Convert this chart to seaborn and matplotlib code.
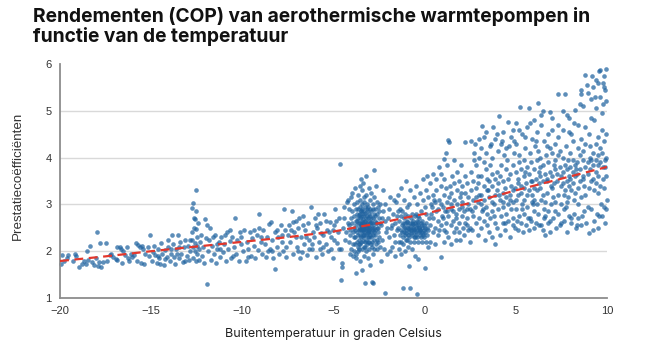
import matplotlib
matplotlib.use("Agg")
import matplotlib.pyplot as plt
import seaborn as sns
import pandas as pd

# Measurements: (outdoor temperature in °C, coefficient of performance)
seg_a = [(-19.95,1.72),(-19.87,1.92),(-19.80,1.78),(-19.6,1.86),(-19.54,1.92),(-19.3,1.80),(-19.18,1.95),
         (-18.95,1.66),(-18.8,1.73),(-18.66,1.79),(-18.59,1.72),(-18.54,2.0),(-18.45,1.81),(-18.35,2.12),
         (-18.23,1.76),(-18.12,1.71),(-17.99,2.40),(-17.93,1.69),(-17.85,1.77),(-17.80,2.17),(-17.77,1.67),
         (-17.62,1.76),(-17.49,2.17),(-17.44,1.79),(-17.26,1.92),(-17.1,1.87),(-16.95,1.84),(-16.89,1.82),
         (-16.71,2.10),(-16.65,2.05),(-16.52,2.0),(-16.45,1.92),(-16.34,2.10),(-16.25,1.86),(-16.10,1.95),
         (-16.03,1.88),(-15.92,1.92),(-15.83,2.17),(-15.76,1.80),(-15.70,2.13),(-15.61,2.10),(-15.55,1.74),
         (-15.48,2.12),(-15.43,2.05),(-15.37,1.72),(-15.34,1.95),(-15.19,2.08),(-15.10,1.90),(-15.06,2.35),
         (-16.6,1.75),(-17.2,1.95),(-18.0,1.85),(-19.1,1.90),(-16.9,2.08),(-16.2,1.78)]

seg_b = [(-14.97,1.79),(-14.88,1.99),(-14.79,1.92),(-14.70,1.74),(-14.62,2.05),(-14.55,1.85),(-14.45,2.18),
         (-14.38,1.95),(-14.30,1.70),(-14.22,2.02),(-14.15,1.88),(-14.05,2.10),(-13.98,1.78),(-13.90,1.95),
         (-13.85,2.34),(-13.78,2.15),(-13.70,1.72),(-13.62,2.05),(-13.55,2.34),(-13.48,1.85),(-13.40,2.20),
         (-13.35,1.95),(-13.28,1.76),(-13.20,2.08),(-13.12,2.25),(-13.05,1.90),(-12.98,2.12),(-12.92,1.82),
         (-12.85,2.00),(-14.5,1.72),(-14.1,2.25),(-13.75,1.88),(-13.15,1.80),(-14.85,2.12),(-13.6,1.95),
         (-14.25,1.83),(-13.9,2.05),(-12.88,2.25),(-13.45,2.1),(-14.65,1.9)]

seg_c = [(-12.78,2.40),(-12.76,2.92),(-12.74,2.25),(-12.72,3.02),(-12.70,2.10),(-12.68,1.85),(-12.65,2.72),
         (-12.64,2.50),(-12.62,2.00),(-12.61,2.69),(-12.58,2.18),(-12.56,1.78),(-12.54,3.31),(-12.54,2.86),
         (-12.52,2.48),(-12.50,2.30),(-12.48,1.95),(-12.46,2.12),(-12.44,2.60),(-12.40,2.05),(-12.36,1.82),
         (-12.30,2.20),(-12.25,2.35),(-12.20,1.90),(-12.15,2.10),(-12.10,1.75),(-12.05,2.69),(-12.02,2.28),
         (-11.95,2.56),(-11.92,1.29)]

seg_d = [(-11.90,2.00),(-11.85,2.25),(-11.77,2.50),(-11.72,1.82),(-11.65,2.12),(-11.58,1.95),(-11.50,2.35),
         (-11.45,1.75),(-11.38,2.05),(-11.30,2.20),(-11.22,1.88),(-11.15,2.30),(-11.08,1.98),(-11.00,2.15),
         (-10.92,1.80),(-10.85,2.40),(-10.78,2.05),(-10.70,2.22),(-10.62,1.85),(-10.55,2.30),(-10.48,2.10),
         (-10.40,2.70),(-10.35,1.95),(-10.28,2.25),(-10.20,1.80),(-10.12,2.42),(-10.05,2.15),(-9.98,2.00),
         (-9.90,2.45),(-9.82,1.78),(-9.75,2.20),(-9.68,2.05),(-9.60,2.40),(-9.52,1.90),(-9.45,2.28),
         (-9.38,2.12),(-9.30,1.85),(-9.22,2.35),(-9.15,2.02),(-9.06,2.79),(-9.00,2.20),(-8.92,1.95),
         (-8.85,2.45),(-8.78,2.15),(-8.70,1.88),(-8.62,2.30),(-8.55,2.58),(-8.48,2.05),(-8.44,2.62),
         (-8.38,2.25),(-8.30,1.85),(-8.22,2.40),(-8.20,1.62),(-8.12,2.10),(-8.05,2.30),(-7.98,1.95),
         (-7.90,2.55),(-7.82,2.20),(-7.75,2.00),(-7.71,2.90),(-7.65,2.45),(-7.58,1.88),(-7.52,2.35),
         (-11.6,2.3),(-11.2,2.05),(-10.95,2.35),(-10.5,1.9),(-10.1,2.3),(-9.7,1.88),(-9.35,2.45),
         (-8.95,2.3),(-8.6,2.0),(-8.1,2.45),(-7.85,2.35),(-9.1,2.5),(-10.7,2.45),(-11.4,2.15),
         (-8.4,2.0),(-7.6,2.1)]

seg_e = [(-7.45,2.55),(-7.38,2.20),(-7.30,2.85),(-7.22,1.95),(-7.15,2.40),(-7.08,2.65),(-7.00,2.10),
         (-6.92,2.50),(-6.85,1.85),(-6.78,2.30),(-6.70,2.75),(-6.62,2.15),(-6.55,2.45),(-6.48,1.92),
         (-6.40,2.60),(-6.32,2.25),(-6.25,2.95),(-6.18,2.05),(-6.10,2.40),(-6.02,2.70),(-5.95,1.88),
         (-5.88,2.50),(-5.80,2.20),(-5.72,2.60),(-5.65,1.95),(-5.58,2.35),(-5.50,2.80),(-5.42,2.15),
         (-5.35,2.45),(-5.28,2.00),(-5.20,2.62),(-5.12,2.30),(-5.05,1.85),(-4.98,2.55),(-4.90,2.90),
         (-4.82,2.18),(-4.75,2.42),(-4.68,2.72),(-4.64,3.86),(-4.60,2.05),(-4.55,1.74),(-4.51,1.67),
         (-4.59,1.39),(-4.48,2.50),(-4.42,2.95),(-4.35,2.25),(-4.28,3.05),(-4.22,2.60),
         (-7.35,2.45),(-7.05,2.30),(-6.95,2.00),(-6.65,2.55),(-6.35,2.05),(-6.05,2.30),(-5.85,2.80),
         (-5.55,2.10),(-5.25,2.40),(-4.95,2.25),(-4.70,2.05),(-4.45,2.70),(-6.88,2.72),(-6.5,2.3),
         (-5.98,2.55),(-5.68,2.38),(-5.4,2.65),(-5.15,2.05),(-4.85,2.65),(-7.2,2.62),(-6.2,2.15),
         (-5.75,2.05),(-4.3,2.4),(-6.75,1.98),(-5.05,2.45)]

seg_f = [(-4.17,2.20),(-4.13,2.55),(-4.15,2.90),(-4.11,1.95),(-4.18,3.10),
         (-4.07,2.35),(-4.03,2.70),(-4.05,2.05),(-4.02,3.15),(-4.08,2.45),
         (-3.97,2.60),(-3.93,2.15),(-3.96,2.85),(-3.92,1.90),(-3.98,3.25),(-3.94,2.40),
         (-3.89,2.30),(-3.86,2.75),(-3.88,2.00),(-3.85,3.00),(-3.90,2.50),
         (-3.82,2.45),(-3.78,2.90),(-3.81,2.15),(-3.79,1.85),(-3.83,3.35),(-3.77,2.65),(-3.80,2.30),(-3.76,1.53),
         (-3.74,2.55),(-3.70,2.20),(-3.73,3.05),(-3.71,2.80),(-3.69,2.40),(-3.75,1.95),(-3.72,2.65),
         (-3.66,2.35),(-3.63,2.70),(-3.67,2.10),(-3.64,3.20),(-3.62,2.50),(-3.68,2.90),(-3.65,2.00),(-3.61,2.60),
         (-3.54,1.78),(-3.59,2.45),(-3.56,2.80),(-3.60,2.25),(-3.57,3.40),(-3.55,2.60),(-3.58,2.05),(-3.53,2.95),
         (-3.57,2.35),(-3.56,2.70),(-3.51,2.55),(-3.49,2.30),(-3.53,3.10),(-3.50,2.75),(-3.52,2.15),(-3.48,2.45),
         (-3.51,3.55),(-3.50,2.85),(-3.45,1.60),(-3.46,2.40),(-3.43,2.65),(-3.47,2.20),(-3.44,3.00),(-3.42,2.50),
         (-3.45,2.90),(-3.41,2.05),(-3.46,3.30),(-3.44,2.60),(-3.40,2.35),(-3.39,2.50),(-3.36,2.75),(-3.38,2.30),
         (-3.35,3.15),(-3.37,2.60),(-3.34,2.10),(-3.39,2.85),(-3.36,2.45),(-3.37,3.45),(-3.35,1.90),
         (-3.31,2.35),(-3.28,2.55),(-3.32,2.80),(-3.29,2.20),(-3.30,3.05),(-3.27,2.65),(-3.31,2.40),(-3.28,2.95),
         (-3.27,1.31),(-3.29,2.10),(-3.23,2.45),(-3.20,2.70),(-3.24,2.25),(-3.21,3.20),(-3.22,2.55),(-3.19,2.85),
         (-3.23,2.00),(-3.21,2.35),(-3.20,3.60),(-3.16,2.60),(-3.13,2.30),(-3.15,2.90),(-3.12,2.45),(-3.17,3.00),
         (-3.14,2.15),(-3.16,2.75),(-3.13,1.85),(-3.15,2.50),(-3.09,2.40),(-3.06,2.65),(-3.08,2.20),(-3.05,3.35),
         (-3.10,2.55),(-3.07,2.80),(-3.04,2.05),(-3.09,2.95),(-3.06,2.30),(-3.01,2.50),(-2.98,2.75),(-3.02,2.35),
         (-2.99,3.10),(-3.00,2.60),(-2.97,2.15),(-3.01,2.90),(-2.98,1.70),(-3.03,2.45),(-2.93,2.30),(-2.90,2.60),
         (-2.94,2.85),(-2.91,2.20),(-2.92,3.25),(-2.89,2.50),(-2.90,1.35),(-2.93,2.70),(-2.86,2.45),(-2.83,2.70),
         (-2.87,2.10),(-2.84,3.00),(-2.85,2.55),(-2.82,2.35),(-2.86,2.90),(-2.84,1.31),(-2.83,1.95),
         (-2.79,2.50),(-2.76,2.25),(-2.80,2.80),(-2.76,3.73),(-2.78,2.40),(-2.75,2.65),(-2.79,3.15),(-2.77,2.05),
         (-2.71,2.35),(-2.68,2.60),(-2.72,2.90),(-2.69,2.15),(-2.70,2.45),(-2.67,3.40),(-2.71,2.75),
         (-2.63,2.50),(-2.60,2.25),(-2.64,2.80),(-2.61,2.05),(-2.62,2.60),(-2.59,3.05),
         (-2.56,2.40),(-2.53,2.70),(-2.57,2.20),(-2.54,2.95),(-2.55,2.50),
         (-2.49,2.30),(-2.46,2.60),(-2.50,2.85),(-2.47,2.10),
         (-3.33,2.48),(-3.26,2.62),(-3.18,2.38),(-3.11,2.72),(-3.04,2.52),(-2.96,2.42),(-3.40,2.68),
         (-3.47,2.55),(-3.55,2.48),(-3.62,2.78),(-3.25,2.82),(-3.12,2.20),(-2.95,2.62),(-3.36,2.22),
         (-3.48,2.85),(-3.58,2.15),(-3.20,2.50),(-3.05,2.42)]

seg_g = [(-2.4,2.55),(-2.35,2.25),(-2.3,2.85),(-2.25,2.05),(-2.2,2.65),(-2.15,3.0),(-2.1,2.4),(-2.05,1.95),
         (-2.0,2.7),(-1.95,2.3),(-1.9,3.15),(-1.85,2.5),(-1.8,2.1),(-1.75,2.8),(-1.7,2.35),(-1.65,2.6),
         (-1.6,1.9),(-1.55,3.05),(-1.5,2.45),(-2.38,1.8),(-2.20,1.10),(-2.28,3.3),(-1.98,2.9),(-1.78,2.55),
         (-1.62,2.2),(-2.32,2.7),(-2.08,2.5),(-1.88,2.0),(-1.68,3.1),(-2.45,3.0),(-1.52,2.75)]

seg_h = [(-1.46,2.50),(-1.43,2.20),(-1.47,2.85),(-1.44,3.20),(-1.39,2.65),(-1.36,2.35),(-1.40,2.05),(-1.37,2.90),
         (-1.31,2.45),(-1.28,2.75),(-1.32,2.20),(-1.29,3.35),(-1.30,1.95),(-1.23,2.55),(-1.20,2.30),(-1.24,2.85),
         (-1.21,2.60),(-1.16,2.40),(-1.13,2.70),(-1.17,2.15),(-1.14,3.10),(-1.18,1.21),(-1.09,2.50),(-1.06,2.35),
         (-1.10,2.80),(-1.07,2.60),(-1.08,2.00),(-1.01,2.45),(-0.98,2.65),(-1.02,2.25),(-0.99,2.95),(-1.00,3.50),
         (-0.93,2.55),(-0.90,2.35),(-0.94,2.75),(-0.91,2.10),(-0.92,2.50),(-0.86,2.40),(-0.83,2.60),(-0.87,2.30),
         (-0.84,3.00),(-0.85,1.68),(-0.79,2.50),(-0.76,2.70),(-0.80,2.20),(-0.77,2.45),(-0.80,1.21),(-0.78,3.30),
         (-0.71,2.35),(-0.68,2.55),(-0.72,2.80),(-0.69,2.05),(-0.70,2.60),(-0.63,2.45),(-0.60,2.30),(-0.64,2.65),
         (-0.61,3.15),(-0.62,2.50),(-0.56,2.40),(-0.53,2.60),(-0.57,2.20),(-0.54,2.75),(-0.55,1.90),(-0.49,2.50),
         (-0.46,2.35),(-0.50,2.80),(-0.47,2.55),(-0.48,3.40),(-0.43,2.45),(-0.40,2.30),(-0.44,2.65),(-0.42,1.08),
         (-0.41,3.00),(-0.36,2.55),(-0.33,2.40),(-0.37,2.20),(-0.37,1.83),(-0.34,2.75),(-0.29,2.50),(-0.26,2.35),
         (-0.30,2.70),(-0.27,3.25),(-0.28,2.45),(-0.21,2.40),(-0.18,2.60),(-0.22,2.30),(-0.19,2.85),(-0.13,2.50),
         (-0.10,2.35),(-0.14,2.65),(-0.11,3.55),(-0.12,2.20),(-0.06,2.45),(-0.03,2.55),(-0.07,3.10),(0.00,1.64),
         (-0.04,2.30),(0.04,2.40),(0.07,2.60),(0.03,2.95),(0.06,2.20),(0.05,3.30),(0.11,2.50),(0.14,2.35),
         (0.10,2.80),(0.13,3.60),(0.19,2.45),(0.22,2.70),(0.18,3.15),(0.21,2.10),
         (-1.25,2.42),(-1.12,2.52),(-1.03,2.38),(-0.95,2.62),(-0.88,2.48),(-0.74,2.38),(-0.66,2.58),
         (-0.58,2.48),(-0.45,2.42),(-0.38,2.62),(-0.31,2.52),(-0.24,2.45),(-0.16,2.55),(-0.08,2.38),
         (0.01,2.50),(-0.52,2.30),(-0.95,2.25)]

seg_i = [(0.28,2.55),(0.32,3.00),(0.30,3.45),(0.27,2.20),(0.33,2.80),(0.43,2.70),(0.47,3.20),(0.44,2.40),
         (0.46,3.65),(0.42,2.95),(0.58,2.50),(0.62,2.85),(0.60,3.30),(0.57,2.15),(0.63,3.55),(0.59,3.05),
         (0.73,2.65),(0.77,3.10),(0.74,2.35),(0.76,3.80),(0.72,2.90),(0.90,1.88),(0.88,2.55),(0.92,3.00),
         (0.89,3.40),(0.93,2.75),(0.87,3.65),(1.03,2.70),(1.07,3.20),(1.04,2.45),(1.08,3.55),(1.02,2.95),
         (1.06,2.20),(1.08,3.98),(1.16,4.10),(1.18,2.60),(1.22,3.05),(1.19,3.35),(1.23,2.85),(1.21,3.85),
         (1.17,2.40),(1.30,4.37),(1.34,4.34),(1.28,2.75),(1.32,3.15),(1.29,2.30),(1.43,2.90),(1.47,3.25),
         (1.44,2.55),(1.48,3.60),(1.42,2.15),(1.46,3.00),(1.58,2.65),(1.62,3.10),(1.59,2.40),(1.63,3.45),
         (1.57,2.85),(1.61,3.95),(1.73,2.80),(1.77,3.30),(1.74,2.50),(1.78,3.00),(1.72,2.25),(1.76,3.70),
         (1.88,2.60),(1.92,3.15),(1.89,2.90),(1.94,2.24),(1.87,3.50),(1.91,2.40),(2.03,2.75),(2.07,3.05),
         (2.04,3.40),(2.08,2.50),(2.02,3.85),(2.06,2.95),(2.18,2.85),(2.22,2.60),(2.19,3.25),(2.23,3.60),
         (2.17,2.35),(2.22,4.34),(2.33,2.70),(2.37,3.00),(2.34,3.45),(2.38,2.45),(2.32,2.90),(2.36,3.15),
         (0.5,3.1),(0.8,2.45),(1.1,2.85),(1.4,3.4),(1.7,2.7),(2.0,3.25),(2.3,2.55)]

seg_j = [(2.48,2.90),(2.52,3.30),(2.49,2.50),(2.53,3.70),(2.53,4.35),(2.51,2.20),(2.63,3.10),(2.67,2.75),
         (2.64,3.50),(2.68,4.10),(2.62,2.45),(2.78,2.95),(2.82,3.35),(2.79,2.60),(2.83,3.85),(2.77,4.30),
         (2.81,3.15),(2.93,3.05),(2.97,2.70),(2.94,3.45),(2.98,4.00),(2.92,2.35),(2.96,3.20),(3.08,3.20),
         (3.12,2.85),(3.09,3.60),(3.13,4.68),(3.07,2.50),(3.11,3.00),(3.10,4.20),(3.23,3.10),(3.27,2.65),
         (3.24,3.40),(3.28,3.90),(3.30,2.24),(3.26,4.45),(3.38,2.95),(3.42,3.30),(3.39,3.75),(3.43,2.55),
         (3.37,4.10),(3.41,3.55),(3.40,2.80),(3.53,3.15),(3.57,2.70),(3.54,3.50),(3.58,4.25),(3.52,2.40),
         (3.56,3.85),(3.68,3.05),(3.72,3.40),(3.69,2.85),(3.77,4.66),(3.67,2.30),(3.71,3.65),(3.70,4.00),
         (3.83,3.20),(3.87,2.60),(3.84,3.55),(3.88,4.40),(3.82,3.00),(3.86,2.15),(3.98,3.30),(4.02,2.90),
         (3.99,3.70),(4.05,4.88),(3.97,2.50),(4.01,4.15),(4.00,3.45),(4.13,3.10),(4.17,2.75),(4.14,3.60),
         (4.18,4.30),(4.12,2.35),(4.16,3.85),(4.28,3.25),(4.32,2.95),(4.29,3.50),(4.33,4.05),(4.27,2.60),
         (4.31,4.55),(4.30,3.05),(4.43,3.35),(4.47,2.80),(4.44,3.75),(4.48,4.20),(4.42,2.45),(4.46,3.15),
         (4.56,4.77),(4.58,3.00),(4.55,3.55),(4.59,2.65),(4.54,3.95),(4.68,3.20),(4.72,2.90),(4.69,3.65),
         (4.73,4.45),(4.67,2.30),(4.71,3.40),(4.83,3.30),(4.87,2.70),(4.84,3.85),(4.88,4.10),(4.82,2.55),
         (4.86,3.05),(4.85,4.60),
         (2.6,2.85),(2.9,3.6),(3.2,2.9),(3.5,3.3),(3.8,2.75),(4.1,3.2),(4.4,2.6),(4.7,3.1),
         (2.7,3.95),(3.0,4.4),(3.35,4.55),(3.65,4.3),(3.95,4.5),(4.25,4.35),(4.6,4.25),(4.9,4.35)]

seg_k = [(4.98,3.35),(5.02,2.90),(4.99,3.70),(5.03,4.30),(4.97,2.50),(5.01,3.10),(5.00,4.75),(5.13,3.20),
         (5.17,2.75),(5.14,3.55),(5.18,4.05),(5.12,2.45),(5.16,3.90),(5.23,5.09),(5.28,3.40),(5.32,3.00),
         (5.29,3.75),(5.33,4.50),(5.27,2.60),(5.31,3.25),(5.43,3.10),(5.47,2.80),(5.44,3.60),(5.48,4.20),
         (5.42,2.40),(5.46,3.95),(5.45,3.35),(5.58,3.45),(5.62,2.95),(5.59,3.80),(5.63,4.65),(5.57,2.55),
         (5.61,3.20),(5.73,5.05),(5.72,3.30),(5.76,2.70),(5.74,3.65),(5.77,4.10),(5.71,2.45),(5.83,3.50),
         (5.87,3.05),(5.84,3.90),(5.88,4.40),(5.82,2.65),(5.86,3.20),(5.98,3.35),(6.02,2.85),(5.99,3.75),
         (6.03,4.25),(5.97,2.50),(6.01,4.80),(6.00,3.10),(6.13,3.55),(6.17,3.00),(6.14,3.95),(6.18,4.55),
         (6.12,2.60),(6.16,3.30),(6.24,5.16),(6.26,3.45),(6.22,2.80),(6.27,3.70),(6.23,4.15),(6.33,3.60),
         (6.37,3.10),(6.34,4.00),(6.38,2.55),(6.32,3.35),(6.36,4.70),(6.48,3.50),(6.52,2.90),(6.49,3.85),
         (6.53,4.35),(6.47,2.45),(6.51,3.20),(6.50,5.00),(6.60,2.35),(6.62,3.65),(6.58,3.05),(6.63,4.05),
         (6.59,2.75),(6.73,3.55),(6.77,2.85),(6.74,3.90),(6.78,4.50),(6.72,3.25),(6.76,2.60),(6.88,4.98),
         (6.87,3.70),(6.91,3.00),(6.88,2.40),(6.92,3.40),(6.86,4.20),(6.98,3.60),(7.02,3.15),(6.99,4.10),
         (7.03,2.70),(6.97,3.35),(7.01,4.60),(7.13,3.75),(7.17,3.05),(7.14,3.95),(7.18,2.50),(7.12,3.45),
         (7.16,4.30),(7.28,3.65),(7.32,3.20),(7.29,4.05),(7.33,2.80),(7.27,3.50),(7.34,5.35),(7.31,4.45),
         (7.43,3.80),(7.47,3.00),(7.44,2.55),(7.48,3.40),(7.42,4.15),
         (5.05,2.65),(5.35,2.9),(5.65,2.7),(5.95,3.0),(6.25,2.55),(6.55,2.7),(6.85,2.65),(7.15,2.85),
         (7.45,2.6),(5.2,4.6),(5.5,4.45),(5.8,4.75),(6.1,4.35),(6.4,4.9),(6.7,4.25),(7.0,4.85),(7.3,4.7),
         (5.1,3.45),(5.5,3.7),(5.9,3.5),(6.3,3.8),(6.7,3.5),(7.1,3.85)]

seg_l = [(7.58,3.70),(7.62,3.20),(7.59,4.00),(7.63,2.65),(7.57,3.45),(7.61,4.60),(7.67,5.35),(7.69,3.85),
         (7.66,2.90),(7.70,3.30),(7.78,3.75),(7.82,3.05),(7.79,2.40),(7.83,3.50),(7.77,4.25),(7.81,4.90),
         (7.89,4.84),(7.91,3.60),(7.88,3.15),(7.92,2.75),(7.87,3.95),(7.98,3.80),(8.02,3.30),(7.99,4.10),
         (8.03,2.60),(7.97,3.55),(8.01,4.50),(8.13,3.70),(8.17,3.10),(8.14,3.95),(8.18,2.80),(8.12,3.45),
         (8.16,4.35),(8.25,5.02),(8.27,3.85),(8.23,3.25),(8.28,2.50),(8.24,3.60),(8.38,3.90),(8.42,3.35),
         (8.39,4.20),(8.43,2.70),(8.37,3.65),(8.41,4.70),(8.40,3.00),(8.53,3.75),(8.57,3.15),(8.54,4.05),
         (8.58,2.55),(8.52,3.50),(8.56,4.40),(8.55,5.45),(8.68,3.95),(8.72,3.40),(8.69,4.15),(8.73,2.85),
         (8.67,3.60),(8.71,5.10),(8.80,5.76),(8.82,3.80),(8.78,3.20),(8.83,2.60),(8.79,4.30),(8.98,5.39),
         (8.96,3.90),(9.00,3.35),(9.02,2.38),(8.97,3.65),(9.01,4.50),(9.08,4.00),(9.12,3.50),(9.09,4.25),
         (9.13,2.90),(9.07,3.75),(9.11,5.25),(9.23,3.85),(9.27,3.30),(9.24,4.10),(9.28,2.65),(9.22,3.55),
         (9.26,4.80),(9.25,5.50),(9.38,3.95),(9.42,3.45),(9.39,4.30),(9.43,2.80),(9.37,3.70),(9.41,5.05),
         (9.50,5.60),(9.52,4.05),(9.48,3.25),(9.53,2.50),(9.49,3.85),(9.51,4.45),(9.62,5.87),(9.64,3.90),
         (9.60,3.40),(9.65,3.00),(9.61,4.20),(9.63,5.30),(9.73,4.10),(9.77,3.55),(9.74,2.75),(9.78,3.80),
         (9.72,4.60),(9.76,5.15),(9.83,5.50),(9.87,3.95),(9.84,3.35),(9.88,2.60),(9.82,4.35),(9.86,5.75),
         (9.93,5.90),(9.97,4.00),(9.94,3.60),(9.98,3.10),(9.92,4.50),(9.96,2.90),(9.95,5.20),
         (7.75,2.95),(8.05,2.7),(8.35,2.55),(8.65,2.75),(8.95,2.95),(9.25,2.45),(9.55,2.75),(9.85,2.95),
         (7.6,5.0),(7.9,4.55),(8.2,4.75),(8.5,5.15),(8.8,4.65),(9.1,4.85),(9.4,5.65),(9.7,4.95),(9.9,5.45),
         (7.5,3.6),(7.9,3.4),(8.3,3.75),(8.7,3.55),(9.1,3.95),(9.5,3.6),(9.9,3.8),
         (8.9,5.55),(9.2,5.75),(9.55,5.85),(9.8,5.6),(8.6,5.35),(9.35,5.3)]

# Trend curve through the cloud
trend_temp = [-20, -17.5, -15, -12.5, -10, -7.5, -5, -2.5, 0, 2.5, 5, 7.5, 10]
trend_cop = [1.79, 1.89, 2.0, 2.1, 2.2, 2.3, 2.42, 2.6, 2.8, 3.03, 3.3, 3.55, 3.8]

x_ticks = [-20, -15, -10, -5, 0, 5, 10]
y_ticks = [1, 2, 3, 4, 5, 6]
grid_levels = [2, 3, 4, 5]

title = "Rendementen (COP) van aerothermische warmtepompen in\nfunctie van de temperatuur"
x_label = "Buitentemperatuur in graden Celsius"
y_label = "Prestatiecoëfficiënten"

segments = [seg_a, seg_b, seg_c, seg_d, seg_e, seg_f, seg_g, seg_h, seg_i, seg_j, seg_k, seg_l]
points = pd.DataFrame([p for seg in segments for p in seg], columns=["temp", "cop"])
trend = pd.DataFrame({"temp": trend_temp, "cop": trend_cop})

sns.set_theme(style="white")
plt.rcParams["font.family"] = ["Liberation Sans", "DejaVu Sans"]

fig = plt.figure(figsize=(6.45, 3.5), dpi=100)
ax = fig.add_axes([60 / 645, 1 - 298 / 350, 547 / 645, 234 / 350])

for level in grid_levels:
    ax.axhline(level, color="#d9d9d9", lw=1.0, zorder=0)

sns.scatterplot(data=points, x="temp", y="cop", s=11, color="#1f629f", alpha=0.72,
                linewidth=0, ax=ax, zorder=2, clip_on=False)
sns.lineplot(data=trend, x="temp", y="cop", color="#e3372c", lw=1.6, ax=ax, zorder=3)
ax.lines[-1].set_dashes([4, 2.5])

ax.set_xlim(-20, 10)
ax.set_ylim(1, 6)
ax.set_xticks(x_ticks)
ax.set_yticks(y_ticks)
ax.set_xlabel("")
ax.set_ylabel("")

for side in ["top", "right"]:
    ax.spines[side].set_visible(False)
for side in ["left", "bottom"]:
    ax.spines[side].set_color("#8c8c8c")
    ax.spines[side].set_linewidth(1.3)
ax.tick_params(axis="both", which="major", direction="out", length=4, width=1,
               color="#8c8c8c", labelsize=8, labelcolor="#333333", pad=2)

fig.text(33 / 645, 1 - 7 / 350, title, ha="left", va="top", fontsize=13.8,
         fontweight="bold", family="Inter", color="#111111", linespacing=1.1)
fig.text(18 / 645, 1 - 176 / 350, y_label, rotation=90, ha="center", va="center",
         fontsize=9.6, color="#333333")
fig.text(333 / 645, 1 - 334 / 350, x_label, ha="center", va="center",
         fontsize=9, family="Inter", color="#222222")

fig.savefig("out.png", dpi=100)
